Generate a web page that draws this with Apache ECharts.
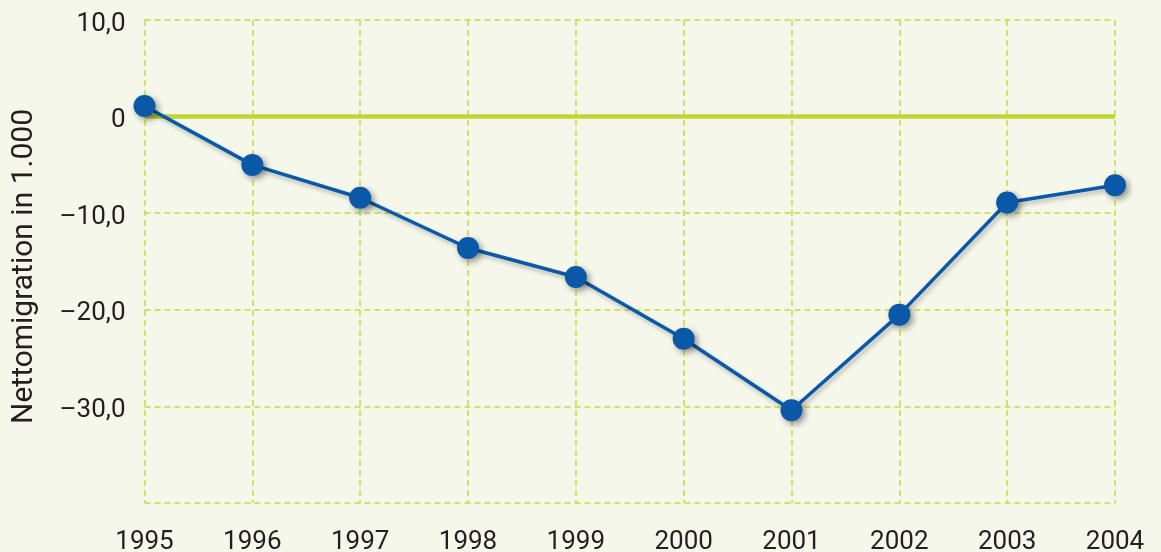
<!DOCTYPE html>
<html>
<head>
<meta charset="utf-8">
<script src="https://cdn.jsdelivr.net/npm/echarts@6/dist/echarts.min.js"></script>
<style>
html,body{margin:0;padding:0;background:#f5f7eb;}
#c{width:1161px;height:552px;}
</style>
</head>
<body>
<div id="c"></div>
<script>
const years = ['1995','1996','1997','1998','1999','2000','2001','2002','2003','2004'];
const netMigration = [1.1, -5.0, -8.4, -13.6, -16.6, -23.0, -30.4, -20.5, -8.9, -7.1];
const yTickValues = [10, 0, -10, -20, -30, -40];
const yTickLabels = ['10,0', '0', '–10,0', '–20,0', '–30,0', ''];
const yAxisTitle = 'Nettomigration in 1.000';

const font = 'Roboto, "Noto Sans", sans-serif';
const chart = echarts.init(document.getElementById('c'), null, {renderer:'canvas'});
chart.setOption({
  backgroundColor: '#f5f7eb',
  animation: false,
  grid: {left: 144.5, right: 46, top: 20, bottom: 49, containLabel: false, outerBoundsMode: 'none'},
  xAxis: {
    type: 'category',
    data: years,
    boundaryGap: false,
    axisLine: {show: false},
    axisTick: {show: false},
    axisLabel: {color: '#231f20', fontSize: 26, fontFamily: font, margin: 26},
    splitLine: {show: true, lineStyle: {color: '#c6dc3c', width: 1.5, type: [6, 4]}}
  },
  yAxis: {
    type: 'value',
    min: -40, max: 10, interval: 10,
    name: yAxisTitle,
    nameLocation: 'middle',
    nameGap: 105,
    nameRotate: 90,
    nameTextStyle: {color: '#231f20', fontSize: 30, fontFamily: font, padding: [0, 10, 0, 0]},
    axisLine: {show: false},
    axisTick: {show: false},
    axisLabel: {
      color: '#231f20', fontSize: 26, fontFamily: font, margin: 19,
      verticalAlign: 'top', lineHeight: 8,
      formatter: function (v) { const i = yTickValues.indexOf(v); return i >= 0 ? yTickLabels[i] : ''; }
    },
    splitLine: {show: true, lineStyle: {color: '#c6dc3c', width: 1.5, type: [6, 4]}}
  },
  series: [{
    type: 'line',
    data: netMigration,
    symbol: 'circle',
    symbolSize: 22,
    lineStyle: {color: '#0a58a8', width: 3.5, shadowColor: 'rgba(0,0,0,0.25)', shadowBlur: 4, shadowOffsetX: 2, shadowOffsetY: 3},
    itemStyle: {color: '#0a58a8', shadowColor: 'rgba(0,0,0,0.4)', shadowBlur: 6, shadowOffsetX: 3, shadowOffsetY: 3},
    z: 5,
    markLine: {
      silent: true,
      symbol: ['none', 'none'],
      label: {show: false},
      lineStyle: {color: '#bed633', width: 4.5, type: 'solid'},
      data: [{yAxis: 0}],
      z: 1
    }
  }]
});
</script>
</body>
</html>
